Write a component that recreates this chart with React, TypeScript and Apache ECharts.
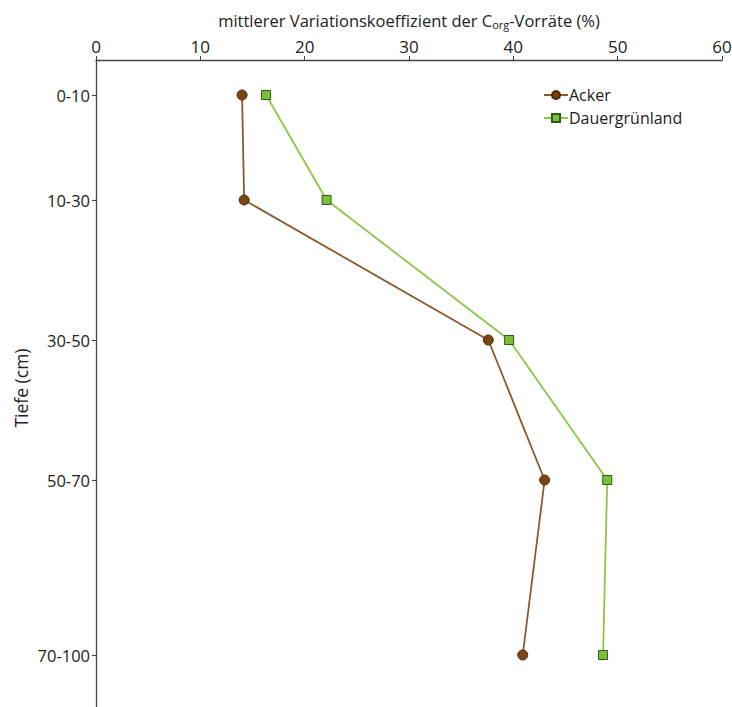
import React, { useEffect, useRef } from "react";
import * as echarts from "echarts";

const depthLabels = ["0-10", "10-30", "30-50", "50-70", "70-100"];
const depthMid = [5, 20, 40, 60, 85];
const acker = [14.0, 14.2, 37.6, 43.0, 40.9];
const dauer = [16.3, 22.1, 39.6, 49.0, 48.6];
const xTicks = [0, 10, 20, 30, 40, 50, 60];

const FONT = "'Open Sans', 'Noto Sans', sans-serif";

export default function App() {
  const ref = useRef<HTMLDivElement>(null);
  useEffect(() => {
    if (!ref.current) return;
    const chart = echarts.init(ref.current, undefined, { renderer: "svg" });
    chart.setOption({
      animation: false,
      backgroundColor: "#ffffff",
      textStyle: { fontFamily: FONT },
      grid: { left: 96, top: 60, width: 626, height: 700, outerBoundsMode: "none", containLabel: false },
      legend: {
        orient: "vertical",
        left: 538,
        top: 82,
        itemGap: 7,
        itemWidth: 24,
        itemHeight: 10,
        textStyle: { fontSize: 16, color: "#222", fontFamily: FONT, padding: [0, 0, 0, -4] },
        data: ["Acker", "Dauergrünland"],
      },
      graphic: [
        {
          type: "text",
          rotation: Math.PI / 2,
          style: {
            text: "Tiefe (cm)",
            fontSize: 17.5,
            fill: "#222",
            fontFamily: FONT,
            align: "center",
            verticalAlign: "middle",
          },
          x: 21,
          y: 388,
        },
      ],
      xAxis: {
        type: "value",
        position: "top",
        min: xTicks[0],
        max: xTicks[xTicks.length - 1],
        interval: 10,
        name: "{a|mittlerer Variationskoeffizient der C}{s|org}{a|-Vorräte (%)}",
        nameLocation: "middle",
        nameGap: 30,
        nameTextStyle: {
          rich: {
            a: { fontSize: 16.5, color: "#222", fontFamily: FONT },
            s: { fontSize: 11, color: "#222", fontFamily: FONT, padding: [9, 0, 0, 0] },
          },
        },
        axisLine: { show: true, lineStyle: { color: "#444", width: 1.3 } },
        axisTick: { show: true, length: 4, lineStyle: { color: "#444" } },
        axisLabel: { fontSize: 17, color: "#222", margin: 5, fontFamily: FONT },
        splitLine: { show: false },
      },
      yAxis: {
        type: "value",
        inverse: true,
        min: 0,
        max: 100,
        axisLine: { show: true, onZero: false, lineStyle: { color: "#444", width: 1.3 } },
        axisTick: { show: true, length: 4, customValues: depthMid, lineStyle: { color: "#444" } },
        axisLabel: {
          fontSize: 16.5,
          color: "#222",
          margin: 6,
          fontFamily: FONT,
          customValues: depthMid,
          formatter: (v: number) => {
            const i = depthMid.indexOf(v);
            return i >= 0 ? depthLabels[i] : "";
          },
        },
        splitLine: { show: false },
      },
      series: [
        {
          name: "Acker",
          type: "line",
          data: acker.map((x, i) => [x, depthMid[i]]),
          symbol: "circle",
          symbolSize: 10,
          lineStyle: { color: "#8a5a2c", width: 1.8 },
          itemStyle: { color: "#7a4512", borderColor: "#4a2a08", borderWidth: 1 },
          z: 3,
        },
        {
          name: "Dauergrünland",
          type: "line",
          data: dauer.map((x, i) => [x, depthMid[i]]),
          symbol: "rect",
          symbolSize: 9,
          lineStyle: { color: "#8cc64a", width: 1.8 },
          itemStyle: { color: "#7cbf3c", borderColor: "#2f5a14", borderWidth: 1 },
          z: 3,
        },
      ],
    });
    return () => chart.dispose();
  }, []);
  return (
    <div
      ref={ref}
      style={{ position: "fixed", left: 0, top: 0, width: 732, height: 760, background: "#fff" }}
    />
  );
}
